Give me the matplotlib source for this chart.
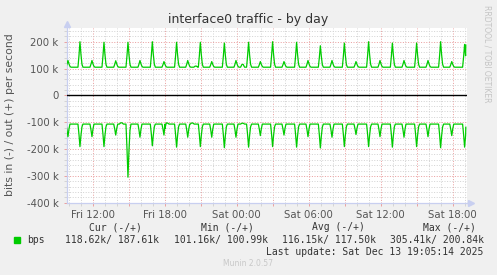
import matplotlib
matplotlib.use("Agg")
import matplotlib.pyplot as plt
from matplotlib.lines import Line2D

# hours since Fri 00:00
t_left, t_right = 9.87, 43.2
t_last = 43.1

# the big two-hourly bursts (k bits/s)
burst_t = [10.95, 12.95, 14.95, 16.98, 19.0, 20.98, 22.98, 25.0, 27.0,
           29.0, 30.98, 32.98, 35.0, 36.98, 39.0, 41.0, 43.0]
burst_out = [200, 198, 198, 200, 198, 198, 195, 198, 200,
             198, 185, 195, 200, 195, 195, 200, 190]
burst_in = [191, 191, 305, 188, 193, 191, 195, 193, 191,
            193, 196, 191, 191, 193, 191, 195, 193]

# the smaller blips in between
blip_t = [9.95, 11.95, 13.93, 15.95, 17.95, 19.93, 21.93, 23.95, 25.98,
          27.95, 29.95, 31.95, 33.95, 35.95, 37.95, 39.95, 41.93]
blip_out = [130, 130, 129, 130, 126, 130, 126, 130, 126,
            126, 130, 130, 126, 130, 130, 130, 126]
blip_in = [154, 154, 148, 156, 148, 156, 156, 156, 150,
           148, 154, 156, 146, 154, 156, 154, 150]

# tiny wobbles on the baseline
hump_out_t = [20.6, 24.5]
hump_out = [110, 118]
hump_in_t = [14.4, 18.2, 20.3, 24.5]
hump_in = [101, 102, 102, 103]

base_out, base_in = 105, 107
cur_out, cur_in = 187.61, 118.62

xtick_hours = [12, 18, 24, 30, 36, 42]
xtick_labels = ["Fri 12:00", "Fri 18:00", "Sat 00:00", "Sat 06:00", "Sat 12:00", "Sat 18:00"]
ytick_vals = [200, 100, 0, -100, -200, -300, -400]
ytick_labels = ["200 k", "100 k", "0", "-100 k", "-200 k", "-300 k", "-400 k"]

spike = [(-10, 0), (-5, 0.45), (0, 1), (5, 0.5), (10, 0.12), (15, 0)]
dip = [(-10, 0), (-5, 0.45), (0, 1), (5, 0.4), (10, 0)]
bump = [(-10, 0), (-3, 0.8), (3, 0.8), (10, 0)]


def trace(base, events, cur):
    pts = [(t_left - 0.5, base)]
    for times, vals, shape in events:
        for t, v in zip(times, vals):
            for dm, f in shape:
                pts.append((t + dm / 60.0, base + (v - base) * f))
    pts.sort()
    pts = [p for p in pts if p[0] < t_last]
    pts.append((t_last, cur))
    return [p[0] for p in pts], [p[1] for p in pts]


ox, oy = trace(base_out, [(burst_t, burst_out, spike), (blip_t, blip_out, spike),
                          (hump_out_t, hump_out, bump)], cur_out)
ix, iy = trace(base_in, [(burst_t, burst_in, spike), (blip_t, blip_in, dip),
                         (hump_in_t, hump_in, bump)], cur_in)
iy = [-v for v in iy]

W, H = 497, 275
fig = plt.figure(figsize=(W / 100, H / 100), dpi=100, facecolor="#f0f0f0")


def fx(x):
    return x / W


def fy(y):
    return 1 - y / H


L, R, T, B = 67, 467, 28.3, 202.7
ax = fig.add_axes([fx(L), fy(B), (R - L) / W, (B - T) / H])
ax.set_facecolor("white")
ax.set_xlim(t_left, t_right)
ax.set_ylim(-400, 250)

green = "#00cc00"
ax.plot(ox, oy, color=green, lw=0.9, zorder=3)
ax.plot(ix, iy, color=green, lw=0.9, zorder=3)
ax.axhline(0, color="black", lw=1.0, zorder=4)

# grid
ax.set_xticks([h for h in range(12, 44, 3)])
ax.set_xticklabels([xtick_labels[xtick_hours.index(h)] if h in xtick_hours else ""
                    for h in range(12, 44, 3)])
ax.set_xticks([h for h in range(10, 44)], minor=True)
ax.set_yticks(ytick_vals)
ax.set_yticklabels(ytick_labels)
ax.set_yticks([v for v in range(-400, 251, 20)], minor=True)
ax.grid(which="minor", color="#d4d4d4", lw=0.72, linestyle=(0, (1, 1.6)))
ax.grid(which="major", color="#eaa0a0", lw=0.72, linestyle=(0, (1, 1.6)))
ax.set_axisbelow(True)

ax.tick_params(which="both", direction="out", length=2, width=0.7, labelsize=7.3,
               labelcolor="#555555", color="#d4d4d4")
ax.tick_params(which="major", color="#eaa0a0")
ax.tick_params(axis="x", pad=3)
ax.tick_params(axis="y", pad=4)

for s in ["top", "right"]:
    ax.spines[s].set_visible(False)
for s in ["left", "bottom"]:
    ax.spines[s].set_color("#c8cff0")
    ax.spines[s].set_linewidth(0.9)
ax.spines["left"].set_bounds(-400, 258)

fig.add_artist(Line2D([fx(L)], [fy(24)], marker="^", ms=4, color="#c8cff0",
                      transform=fig.transFigure, lw=0))
fig.add_artist(Line2D([fx(471)], [fy(B)], marker=">", ms=4, color="#c8cff0",
                      transform=fig.transFigure, lw=0))
fig.add_artist(Line2D([fx(R), fx(469)], [fy(B), fy(B)], color="#c8cff0", lw=0.9,
                      transform=fig.transFigure))

fig.text(fx(248), fy(19), "interface0 traffic - by day", ha="center", va="center",
         fontsize=9, color="#333333")
fig.text(fx(10), fy(115), "bits in (-) / out (+) per second", rotation=90,
         ha="center", va="center", fontsize=7.8, color="#555555")
fig.text(fx(487), fy(5), "RRDTOOL / TOBI OETIKER", rotation=270, ha="center",
         va="top", fontsize=5.5, color="#c4c4c4")

mono = "DejaVu Sans Mono"
heads = [("Cur (-/+)", 115.7), ("Min (-/+)", 227), ("Avg (-/+)", 338), ("Max (-/+)", 449.5)]
vals = [("118.62k/ 187.61k", 112), ("101.16k/ 100.99k", 220.5),
        ("116.15k/ 117.50k", 329), ("305.41k/ 200.84k", 437)]
for txt, x in heads:
    fig.text(fx(x), fy(227), txt, ha="center", va="center", family=mono,
             fontsize=7, color="#333333")
for txt, x in vals:
    fig.text(fx(x), fy(240), txt, ha="center", va="center", family=mono,
             fontsize=7, color="#333333")
fig.patches.append(plt.Rectangle((fx(14), fy(242.5)), 5.5 / W, 5.5 / H,
                                 color=green, transform=fig.transFigure))
fig.text(fx(27), fy(240), "bps", ha="left", va="center", family=mono,
         fontsize=7, color="#333333")
fig.text(fx(483), fy(251.7), "Last update: Sat Dec 13 19:05:14 2025", ha="right",
         va="center", family=mono, fontsize=7, color="#333333")
fig.text(fx(248), fy(263), "Munin 2.0.57", ha="center", va="center",
         fontsize=5.5, color="#c8c8c8")

fig.savefig("out.png", dpi=100, facecolor=fig.get_facecolor())
